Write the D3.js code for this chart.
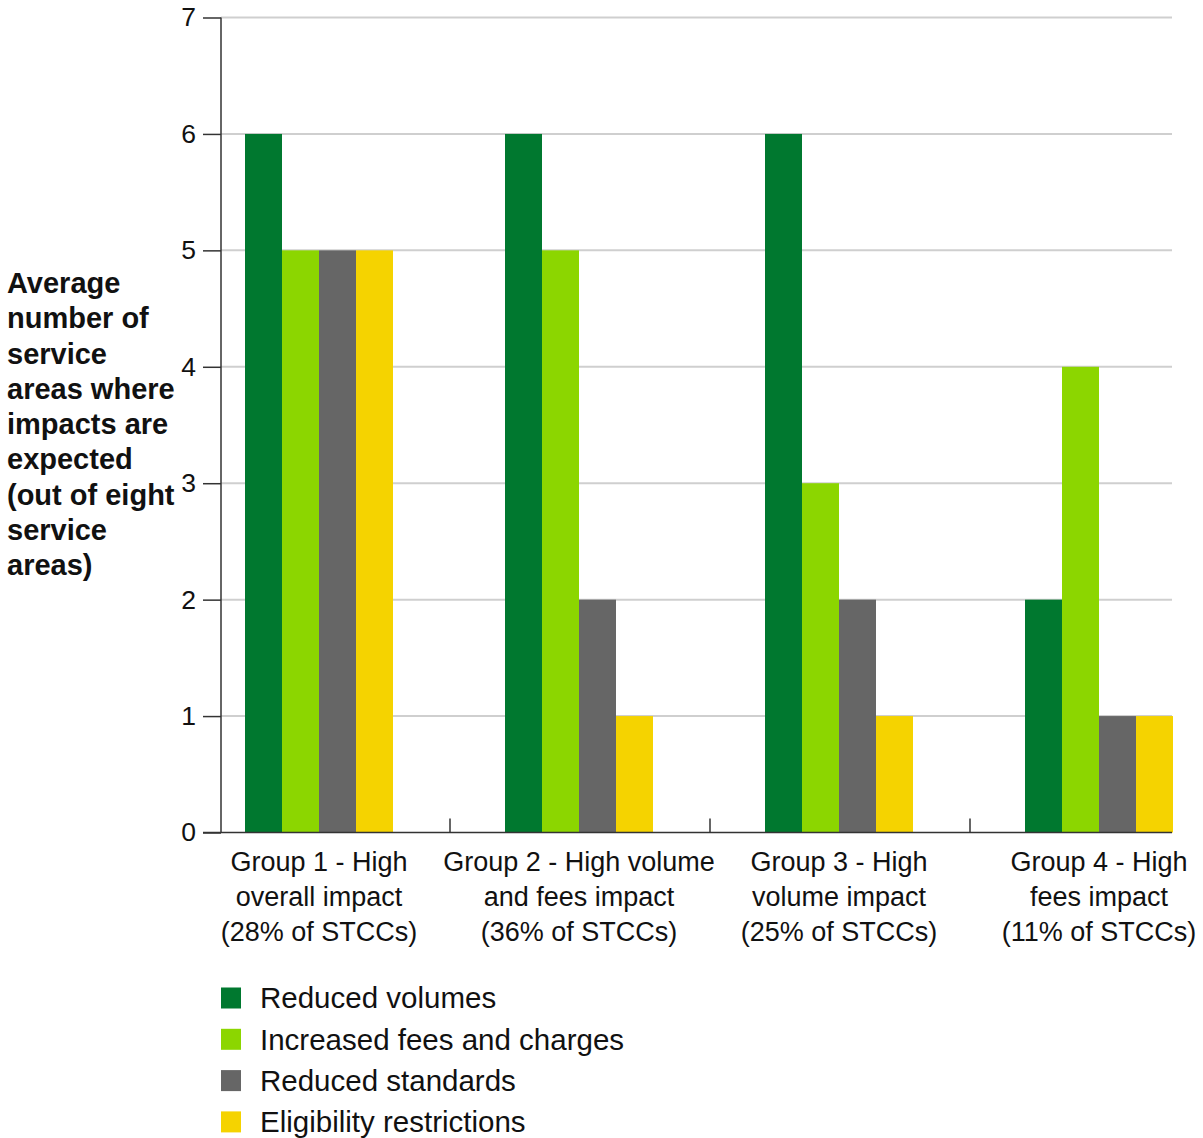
<!DOCTYPE html>
<html>
<head>
<meta charset="utf-8">
<script src="https://cdn.jsdelivr.net/npm/d3@7"></script>
<style>
  html, body { margin: 0; padding: 0; background: #fff; }
  svg { display: block; font-family: "Liberation Sans", Arial, Helvetica, sans-serif; }
</style>
</head>
<body>
<svg id="chart" width="1203" height="1138"></svg>
<script>
// Groups of STCCs (x categories), each label split over lines
const groups = ["Group 1", "Group 2", "Group 3", "Group 4"];
const groupLabels = [
  ["Group 1 - High", "overall impact", "(28% of STCCs)"],
  ["Group 2 - High volume", "and fees impact", "(36% of STCCs)"],
  ["Group 3 - High", "volume impact", "(25% of STCCs)"],
  ["Group 4 - High", "fees impact", "(11% of STCCs)"]
];

// Impact types (series)
const series = ["Reduced volumes", "Increased fees and charges", "Reduced standards", "Eligibility restrictions"];
const colors = ["#00782f", "#8cd600", "#666666", "#f5d300"];

// Average number of service areas per group, one array per impact type
const reducedVolumes = [6, 6, 6, 2];
const increasedFees = [5, 5, 3, 4];
const reducedStandards = [5, 2, 2, 1];
const eligibilityRestrictions = [5, 1, 1, 1];
const values = [reducedVolumes, increasedFees, reducedStandards, eligibilityRestrictions];

const yTicks = [0, 1, 2, 3, 4, 5, 6, 7];
const yTitle = ["Average", "number of", "service", "areas where", "impacts are", "expected", "(out of eight", "service", "areas)"];

const svg = d3.select("#chart");
const textColor = "#111";

const plotLeft = 221, plotRight = 1172;
const y = d3.scaleLinear().domain([0, 7]).range([832.5, 17.5]);
const x0 = d3.scaleBand().domain(groups).range([189, 1229]).paddingInner(0).paddingOuter(0);
const bw = x0.bandwidth();
const x1 = d3.scaleBand().domain(series).range([bw / 2 - 74, bw / 2 + 74]).padding(0);

// Horizontal gridlines
svg.append("g")
  .selectAll("line")
  .data(yTicks.filter(d => d > 0))
  .join("line")
  .attr("x1", plotLeft).attr("x2", plotRight)
  .attr("y1", d => y(d)).attr("y2", d => y(d))
  .attr("stroke", "#cfcfcf").attr("stroke-width", 2);

// Bars
const rows = groups.map((g, gi) => ({ g, vals: series.map((s, si) => ({ s, si, v: values[si][gi] })) }));
svg.append("g")
  .selectAll("g")
  .data(rows)
  .join("g")
  .attr("transform", d => `translate(${x0(d.g)},0)`)
  .selectAll("rect")
  .data(d => d.vals)
  .join("rect")
  .attr("x", d => x1(d.s))
  .attr("width", x1.bandwidth())
  .attr("y", d => y(d.v))
  .attr("height", d => y(0) - y(d.v))
  .attr("fill", d => colors[d.si]);

// Y axis
const yAxis = d3.axisLeft(y).tickValues(yTicks).tickSize(18).tickPadding(7).tickFormat(d3.format("d"));
const gy = svg.append("g").attr("transform", `translate(${plotLeft},0)`).call(yAxis);
gy.select(".domain").attr("stroke", "#333").attr("stroke-width", 1.5).attr("d", `M0,${y(7)}V${y(0)}`);
gy.selectAll(".tick line").attr("stroke", "#333").attr("stroke-width", 1.5);
gy.selectAll(".tick text").attr("font-size", 26.5).attr("fill", textColor)
  .attr("font-family", "'Liberation Sans', Arial, sans-serif");

// X axis baseline and group separators
svg.append("line")
  .attr("x1", 203).attr("x2", plotRight)
  .attr("y1", y(0)).attr("y2", y(0))
  .attr("stroke", "#333").attr("stroke-width", 1.5);
svg.append("g")
  .selectAll("line")
  .data(groups.slice(1))
  .join("line")
  .attr("x1", d => x0(d) + 1).attr("x2", d => x0(d) + 1)
  .attr("y1", y(0)).attr("y2", y(0) - 14)
  .attr("stroke", "#333").attr("stroke-width", 1.5);

// Group labels
const xl = svg.append("g")
  .selectAll("text")
  .data(groups)
  .join("text")
  .attr("text-anchor", "middle")
  .attr("font-size", 27)
  .attr("fill", textColor)
  .attr("transform", d => `translate(${x0(d) + bw / 2},862)`);
xl.selectAll("tspan")
  .data((d, i) => groupLabels[i])
  .join("tspan")
  .attr("x", 0)
  .attr("y", (d, i) => i * 35)
  .attr("dy", "0.35em")
  .text(d => d);

// Y axis title
svg.append("text")
  .attr("font-size", 29)
  .attr("font-weight", "bold")
  .attr("fill", textColor)
  .selectAll("tspan")
  .data(yTitle)
  .join("tspan")
  .attr("x", 7)
  .attr("y", (d, i) => 283 + i * 35.25)
  .attr("dy", "0.35em")
  .text(d => d);

// Legend
const legend = svg.append("g")
  .selectAll("g")
  .data(series)
  .join("g")
  .attr("transform", (d, i) => `translate(221,${998 + i * 41.3})`);
legend.append("rect")
  .attr("x", 0).attr("y", -10.5)
  .attr("width", 20).attr("height", 21)
  .attr("fill", (d, i) => colors[i]);
legend.append("text")
  .attr("x", 39).attr("y", 0).attr("dy", "0.35em")
  .attr("font-size", 29.5)
  .attr("fill", textColor)
  .text(d => d);
</script>
</body>
</html>
